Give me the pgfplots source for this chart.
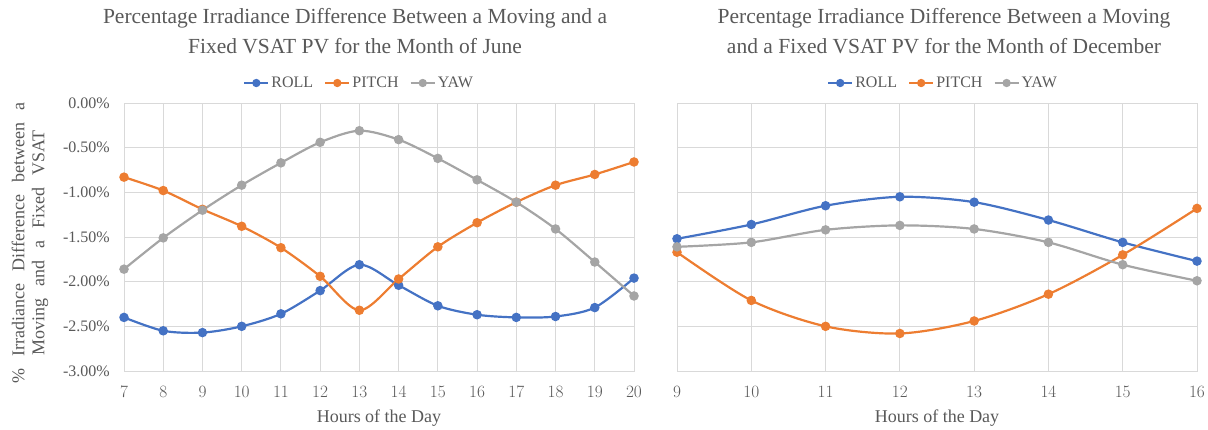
\documentclass[border=0pt]{standalone}
\usepackage{pgfplots}
\usepackage{pgfplotstable}
\pgfplotsset{compat=1.18}
\usepackage{fontspec}
\setmainfont{Liberation Serif}

\definecolor{rollc}{HTML}{4472C4}
\definecolor{pitchc}{HTML}{ED7D31}
\definecolor{yawc}{HTML}{A5A5A5}
\definecolor{txtgray}{HTML}{595959}
\definecolor{gridgray}{HTML}{D9D9D9}

\pgfplotstableread{
h roll pitch yaw
7  -2.40 -0.83 -1.86
8  -2.55 -0.98 -1.51
9  -2.57 -1.19 -1.20
10 -2.50 -1.38 -0.92
11 -2.36 -1.62 -0.67
12 -2.10 -1.94 -0.44
13 -1.81 -2.32 -0.31
14 -2.04 -1.97 -0.41
15 -2.27 -1.61 -0.62
16 -2.37 -1.34 -0.86
17 -2.40 -1.11 -1.11
18 -2.39 -0.92 -1.41
19 -2.29 -0.80 -1.78
20 -1.96 -0.66 -2.16
}\june

\pgfplotstableread{
h roll pitch yaw
9  -1.52 -1.67 -1.61
10 -1.36 -2.21 -1.56
11 -1.15 -2.50 -1.42
12 -1.05 -2.58 -1.37
13 -1.11 -2.44 -1.41
14 -1.31 -2.14 -1.56
15 -1.56 -1.70 -1.81
16 -1.77 -1.18 -1.99
}\december

\pgfplotsset{
  vsat/.style={
    scale only axis,
    height=268pt,
    ymin=-3, ymax=0,
    ytick={-3,-2.5,-2,-1.5,-1,-0.5,0},
    grid=major,
    major grid style={draw=gridgray, line width=1pt},
    axis line style={draw=gridgray, line width=1pt},
    tick style={draw=none},
    tick label style={font=\fontsize{16}{19}\selectfont, text=txtgray},
    xticklabel style={inner sep=0pt, yshift=-15pt},
    yticklabel style={inner sep=0pt, xshift=-14pt},
    clip=false,
    legend columns=3,
    legend style={draw=none, fill=none, anchor=center,
      font=\fontsize{16}{19}\selectfont, text=txtgray,
      /tikz/every even column/.append style={column sep=9pt},
      inner sep=0pt},
    legend image code/.code={%
      \draw[mark repeat=2,mark phase=2,mark size=3pt]
        plot coordinates {(0pt,0pt) (12pt,0pt) (24pt,0pt)};},
    xlabel style={at={(axis description cs:0.5,0)}, anchor=center, yshift=-47pt,
      font=\fontsize{18}{21}\selectfont, text=txtgray},
    title style={anchor=center, align=center,
      font=\fontsize{21.5}{30}\selectfont, text=txtgray},
  },
  ser/.style={line width=2.2pt, smooth, tension=0.5, mark=*, mark size=3.6pt,
    mark options={solid}},
}

\begin{document}
\begin{tikzpicture}
\path[use as bounding box] (0pt,0pt) rectangle (1208pt,429pt);

\begin{axis}[vsat,
  at={(124pt,58pt)}, anchor=south west,
  width=510pt,
  xmin=7, xmax=20, xtick={7,8,...,20},
  yticklabels={-3.00\%,-2.50\%,-2.00\%,-1.50\%,-1.00\%,-0.50\%,0.00\%},
  xlabel={Hours of the Day},
  title={Percentage Irradiance Difference Between a Moving and a\\Fixed VSAT PV for the Month of June},
  title style={at={(axis description cs:0.453,1)}, yshift=66pt},
  legend style={at={(axis description cs:0.461,1.0746)}},
]
\addplot[ser, color=rollc] table[x=h, y=roll] {\june};
\addlegendentry{ROLL}
\addplot[ser, color=pitchc] table[x=h, y=pitch] {\june};
\addlegendentry{PITCH}
\addplot[ser, color=yawc] table[x=h, y=yaw] {\june};
\addlegendentry{YAW}
\end{axis}

\begin{axis}[vsat,
  at={(677pt,58pt)}, anchor=south west,
  width=520pt,
  xmin=9, xmax=16, xtick={9,10,...,16},
  yticklabels={,,,,,,},
  xlabel={Hours of the Day},
  title={Percentage Irradiance Difference Between a Moving\\and a Fixed VSAT PV for the Month of December},
  title style={at={(axis description cs:0.5135,1)}, yshift=66pt},
  legend style={at={(axis description cs:0.5115,1.0746)}},
]
\addplot[ser, color=rollc] table[x=h, y=roll] {\december};
\addlegendentry{ROLL}
\addplot[ser, color=pitchc] table[x=h, y=pitch] {\december};
\addlegendentry{PITCH}
\addplot[ser, color=yawc] table[x=h, y=yaw] {\december};
\addlegendentry{YAW}
\end{axis}

\node[rotate=90, align=center, text=txtgray,
  font={\fontsize{18}{20}\selectfont\spaceskip=12pt\relax}]
  at (30pt,186pt) {\% Irradiance Difference between a\\Moving and a Fixed VSAT};
\end{tikzpicture}
\end{document}
